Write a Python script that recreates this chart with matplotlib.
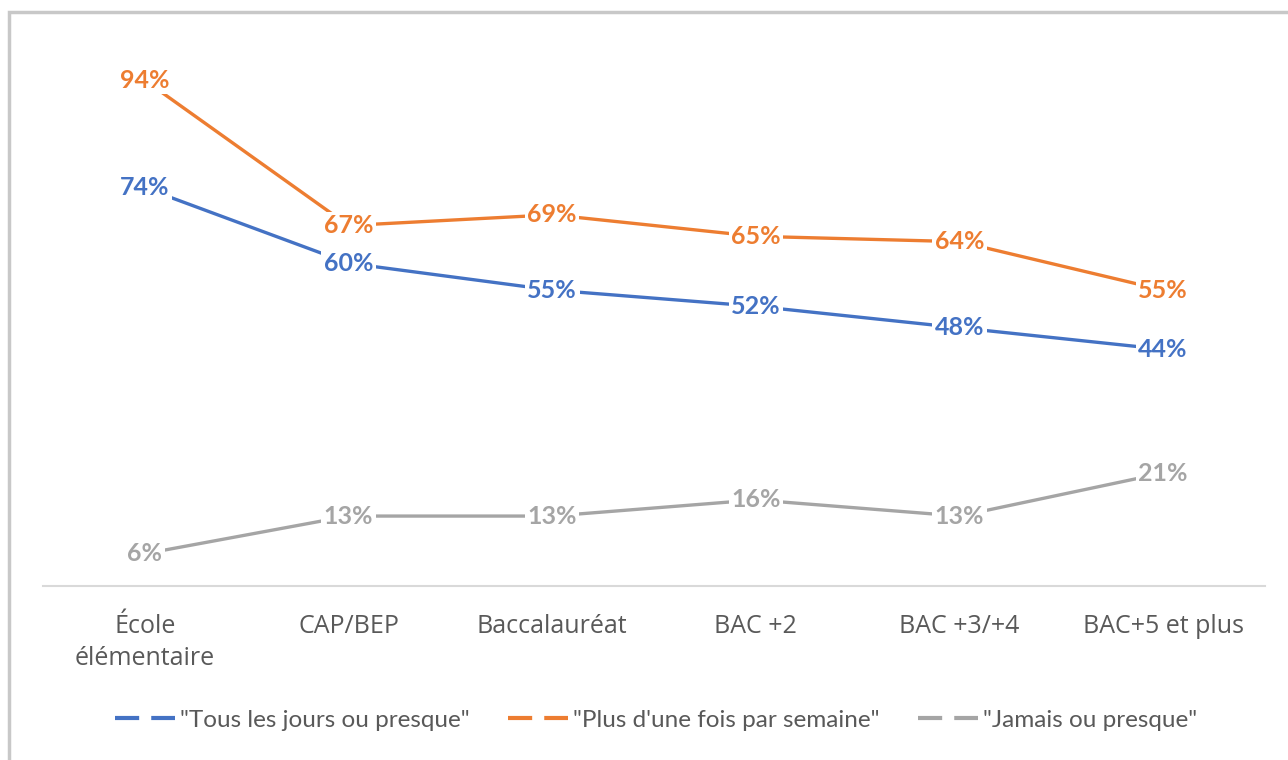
import matplotlib.pyplot as plt
from matplotlib.lines import Line2D
from matplotlib.patches import Rectangle

# Data
categories = ["École\nélémentaire", "CAP/BEP", "Baccalauréat", "BAC +2", "BAC +3/+4", "BAC+5 et plus"]
tous_les_jours = [74, 60, 55, 52, 48, 44]
plus_une_fois = [94, 67, 69, 65, 64, 55]
jamais = [6, 13, 13, 16, 13, 21]
series_names = ['"Tous les jours ou presque"', '"Plus d\'une fois par semaine"', '"Jamais ou presque"']

colors = ["#4472C4", "#ED7D31", "#A5A5A5"]
text_color = "#595959"

plt.rcParams["font.family"] = ["Lato", "DejaVu Sans"]

fig = plt.figure(figsize=(12.88, 7.6), dpi=100)
ax = fig.add_axes([43 / 1288, 1 - 586 / 760, 1222 / 1288, 538 / 760])

# Outer chart frame (only top/left visible in the crop)
fig.patches.append(Rectangle((9 / 1288, -0.1), 1.2, (760 - 12) / 760 + 0.1,
                             transform=fig.transFigure, fill=False,
                             edgecolor="#C8C8C8", linewidth=2.5))

x = list(range(len(categories)))
for vals, col in zip([tous_les_jours, plus_une_fois, jamais], colors):
    ax.plot(x, vals, color=col, linewidth=2.4, solid_capstyle="round", zorder=2)
    for xi, v in zip(x, vals):
        ax.text(xi, v, f"{v}%", color=col, fontsize=18, fontweight="bold",
                ha="center", va="center", zorder=3,
                bbox=dict(boxstyle="square,pad=0.1", facecolor="white", edgecolor="none"))

ax.set_xlim(-0.5, len(categories) - 0.5)
ax.set_ylim(0, 100)
ax.set_yticks([])
ax.set_xticks(x)
ax.set_xticklabels(categories, fontsize=18, color=text_color, linespacing=1.4,
                   family=["Open Sans", "DejaVu Sans"])
ax.tick_params(axis="x", length=0, pad=20)
for side in ["top", "right", "left"]:
    ax.spines[side].set_visible(False)
ax.spines["bottom"].set_color("#D9D9D9")
ax.spines["bottom"].set_linewidth(1.5)

handles = [Line2D([0], [0], color=c, linewidth=3, linestyle=(0, (5.8, 2.9))) for c in colors]
fig.legend(handles, series_names, loc="center", bbox_to_anchor=(656 / 1288, 1 - 720 / 760),
           ncol=3, frameon=False, fontsize=17.5, labelcolor=text_color,
           handlelength=2.45, handletextpad=0.2, columnspacing=1.6)

fig.savefig("out.png", dpi=100)
plt.close(fig)
